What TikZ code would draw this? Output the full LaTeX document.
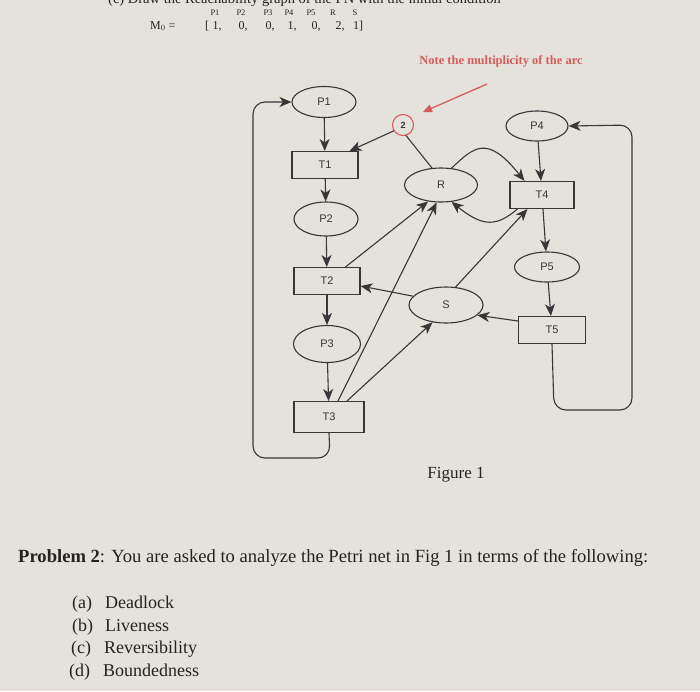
\documentclass[tikz,border=0pt]{standalone}
\usepackage{fontspec}
\setmainfont{Liberation Serif}
\setsansfont{Liberation Sans}
\usetikzlibrary{shapes.geometric,arrows.meta}
\definecolor{bg}{RGB}{229,226,219}
\definecolor{ink}{RGB}{55,55,55}
\definecolor{txt}{RGB}{35,35,35}
\definecolor{redink}{RGB}{214,92,92}
\begin{document}
\begin{tikzpicture}[x=1pt,y=-1pt,
  place/.style={ellipse,draw=ink,line width=1.1pt,minimum width=64pt,minimum height=31pt,inner sep=0pt,font=\sffamily\fontsize{11}{12}\selectfont,text=ink},
  trans/.style={rectangle,draw=ink,line width=1.1pt,minimum width=66pt,minimum height=27pt,inner sep=0pt,font=\sffamily\fontsize{11}{12}\selectfont,text=ink},
  arc/.style={draw=ink,line width=1.1pt,-{Stealth[length=12pt,width=10pt,inset=3.5pt]}},
  hdr/.style={font=\fontsize{8.5}{9}\selectfont,text=txt,inner sep=0pt},
  val/.style={font=\fontsize{12}{13}\selectfont,text=txt,inner sep=0pt,anchor=base},
  body/.style={font=\fontsize{18}{20}\selectfont,text=txt,inner sep=0pt,anchor=base west}]
\useasboundingbox (0,0) rectangle (700,691);
\clip (0,0) rectangle (700,691);
\fill[bg] (0,0) rectangle (700,691);

% cut-off top line
\node[body,font=\fontsize{14.5}{16}\selectfont] (cut) at (108,3) {(c) Draw the Reachability graph of the PN with the initial condition};

% marking header
\node[hdr] (h1) at (215,12.5) {P1};
\node[hdr] (h2) at (241,12.5) {P2};
\node[hdr] (h3) at (268,12.5) {P3};
\node[hdr] (h4) at (289,12.5) {P4};
\node[hdr] (h5) at (311,12.5) {P5};
\node[hdr] (h6) at (333,12.5) {R};
\node[hdr] (h7) at (355,12.5) {S};
\node[val,anchor=base west] (m0) at (150,29) {M$_0$ =};
\node[val] (v0) at (207,29) {[};
\node[val] (v1) at (217,29) {1,};
\node[val] (v2) at (243,29) {0,};
\node[val] (v3) at (270,29) {0,};
\node[val] (v4) at (292,29) {1,};
\node[val] (v5) at (316,29) {0,};
\node[val] (v6) at (340,29) {2,};
\node[val] (v7) at (358,29) {1]};

% note
\node[text=redink,font=\bfseries\fontsize{12.5}{13}\selectfont,inner sep=0pt] (note) at (501,61) {Note the multiplicity of the arc};
\coordinate (rs) at (487,84);
\coordinate (re) at (423,112);
\draw[redink,line width=1.3pt,-{Triangle[length=9pt,width=8pt]}] (rs) -- (re);

% places and transitions
\node[place] (P1) at (324,102) {P1};
\node[trans] (T1) at (325,165) {T1};
\node[place,minimum height=34pt] (P2) at (326,219) {P2};
\node[trans] (T2) at (327,281) {T2};
\node[place,minimum height=37pt,minimum width=67pt] (P3) at (327,344) {P3};
\node[trans,minimum width=70pt,minimum height=31pt] (T3) at (329,417) {T3};
\node[place,minimum width=73pt,minimum height=34pt] (R) at (441,185) {R};
\node[place,minimum width=62pt,minimum height=30pt] (P4) at (537,126) {P4};
\node[trans,minimum width=64pt] (T4) at (542,195) {T4};
\node[place,minimum width=65pt,minimum height=30pt] (P5) at (547,267) {P5};
\node[trans,minimum width=67pt] (T5) at (552,330) {T5};
\node[place,minimum width=74pt,minimum height=36pt] (S) at (446,305) {S};

% main chain
\draw[arc] (P1) -- (T1);
\draw[arc] (T1) -- (P2);
\draw[arc] (P2) -- (T2);
\draw[arc] (T2) -- (P3);
\draw[arc] (P3) -- (T3);
\draw[arc] (P4) -- (T4);
\draw[arc] (T4) -- (P5);
\draw[arc] (P5) -- (T5);

% loops
\coordinate (la) at (330,458);
\coordinate (lb) at (253,102);
\draw[arc,rounded corners=12pt] (T3.south) -- (la) -| (lb) -- (P1.west);
\coordinate (ra) at (554,410);
\coordinate (rb) at (632,125);
\draw[arc,rounded corners=12pt] (T5.south) -- (ra) -| (rb) -- (P4.east);

% weighted arc R -> T1
\coordinate (m2) at (400,128);
\draw[arc] (R.118) -- (m2) -- ([xshift=-9pt]T1.north east);
\node[circle,draw=redink,line width=1.1pt,fill=bg,minimum size=21pt,inner sep=0pt,font=\sffamily\bfseries\fontsize{9}{9}\selectfont,text=ink] (w2) at (403,125) {2};

% R <-> T4
\draw[arc] (R.58) .. controls (474,147) and (487,134) .. ([xshift=15pt]T4.north west);
\draw[arc] ([xshift=8pt]T4.south west) .. controls (497,226) and (484,228) .. (R.-58);

% other arcs
\draw[arc] (S.62) -- ([xshift=18pt]T4.south west);
\draw[arc] (S.165) -- ([yshift=-5pt]T2.east);
\draw[arc] ([xshift=-15pt]T2.north east) -- (R.-128);
\draw[arc] ([xshift=9pt]T3.north) -- (R.-104);
\draw[arc] ([xshift=18pt]T3.north) -- (S.-128);
\draw[arc] ([yshift=9pt]T5.west) -- (S.-18);

% captions
\node[font=\fontsize{17}{19}\selectfont,text=txt,inner sep=0pt] (fig) at (456,475) {Figure 1};
\node[body,font=\fontsize{18.6}{20}\selectfont] (prob) at (18,562) {\textbf{Problem 2}: You are asked to analyze the Petri net in Fig 1 in terms of the following:};
\node[body] (la1) at (72,608) {(a)};
\node[body] (it1) at (105,608) {Deadlock};
\node[body] (la2) at (72,631) {(b)};
\node[body] (it2) at (105,631) {Liveness};
\node[body] (la3) at (71,653) {(c)};
\node[body] (it3) at (104,653) {Reversibility};
\node[body] (la4) at (69,676) {(d)};
\node[body] (it4) at (103,676) {Boundedness};
\end{tikzpicture}
\end{document}
